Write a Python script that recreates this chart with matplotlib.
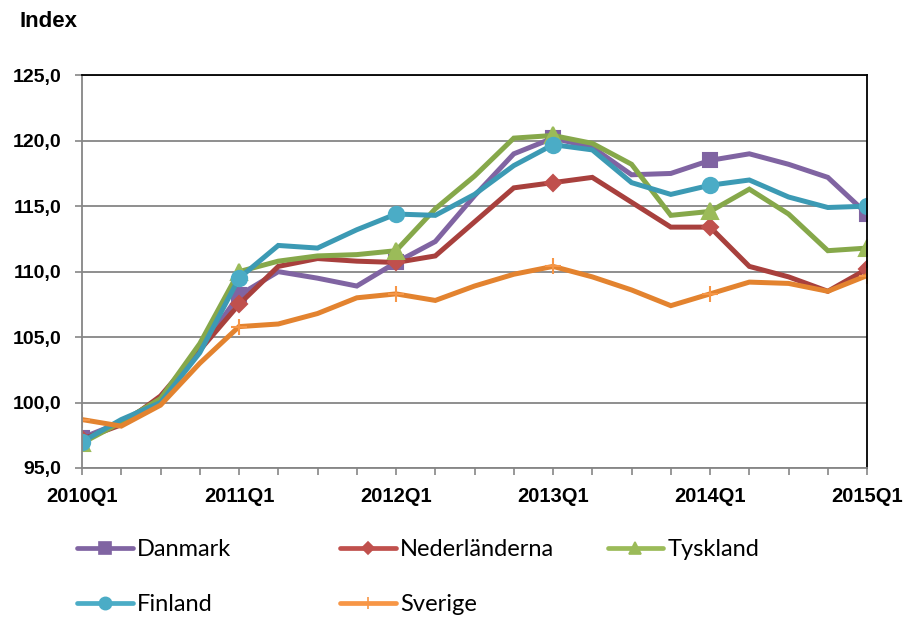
import matplotlib.pyplot as plt
from matplotlib.lines import Line2D
from matplotlib.ticker import FuncFormatter, MultipleLocator

# Quarterly index values, 2010Q1 .. 2015Q1
quarters = [f"{y}Q{q}" for y in range(2010, 2016) for q in range(1, 5)][:21]
tick_labels = ["2010Q1", "2011Q1", "2012Q1", "2013Q1", "2014Q1", "2015Q1"]

danmark = [97.3, 98.5, 100.3, 104.0, 108.2, 110.0, 109.5, 108.9, 110.7, 112.3, 115.8,
           119.0, 120.2, 119.5, 117.4, 117.5, 118.5, 119.0, 118.2, 117.2, 114.4]
nederlanderna = [97.2, 98.3, 100.5, 104.0, 107.5, 110.4, 111.0, 110.8, 110.7, 111.2, 113.8,
                 116.4, 116.8, 117.2, 115.3, 113.4, 113.4, 110.4, 109.6, 108.5, 110.2]
tyskland = [96.9, 98.5, 100.3, 104.5, 110.0, 110.8, 111.2, 111.3, 111.6, 114.8, 117.3,
            120.2, 120.4, 119.8, 118.2, 114.3, 114.6, 116.3, 114.4, 111.6, 111.8]
finland = [97.0, 98.7, 100.0, 103.8, 109.5, 112.0, 111.8, 113.2, 114.4, 114.3, 115.9,
           118.1, 119.7, 119.3, 116.8, 115.9, 116.6, 117.0, 115.7, 114.9, 115.0]
sverige = [98.7, 98.2, 99.8, 103.0, 105.8, 106.0, 106.8, 108.0, 108.3, 107.8, 108.9,
           109.8, 110.4, 109.6, 108.6, 107.4, 108.3, 109.2, 109.1, 108.5, 109.7]

fig = plt.figure(figsize=(9.07, 6.17), dpi=100)
ax = fig.add_axes([0.0904, 0.2415, 0.8656, 0.6365])

x = list(range(len(quarters)))
series = [
    ("Danmark", danmark, "#8064A2", "#8064A2", "s", 10),
    ("Nederländerna", nederlanderna, "#A8403D", "#C0504D", "D", 8),
    ("Tyskland", tyskland, "#86A84A", "#9BBB59", "^", 11),
    ("Finland", finland, "#3C9AB4", "#4BACC6", "o", 11),
    ("Sverige", sverige, "#E3832F", "#F79646", "+", 11),
]
proxies = {}
for name, vals, lc, mc, mk, ms in series:
    ax.plot(x, vals, color=lc, lw=3.6, marker=mk, markersize=ms,
            markerfacecolor=mc, markeredgecolor=mc, markeredgewidth=1.5,
            markevery=4, solid_joinstyle="miter")
    proxies[name] = Line2D([], [], color=mc, lw=3.4, marker=mk, markersize=ms * 0.8,
                           markerfacecolor=mc, markeredgecolor=mc,
                           markeredgewidth=1.2, solid_capstyle="round")

ax.set_xlim(0, 20)
ax.set_ylim(95, 125)
ax.yaxis.set_major_locator(MultipleLocator(5))
ax.yaxis.set_major_formatter(FuncFormatter(lambda v, p: f"{v:.1f}".replace(".", ",")))
ax.set_xticks(x)
ax.set_xticklabels([q if q in tick_labels else "" for q in quarters])

ax.grid(axis="y", color="#868686", lw=1.3)
ax.set_axisbelow(True)
for side in ["left", "bottom"]:
    ax.spines[side].set_color("#868686")
    ax.spines[side].set_linewidth(1.3)
for side in ["top", "right"]:
    ax.spines[side].set_color("black")
    ax.spines[side].set_linewidth(1.3)

ax.tick_params(axis="both", direction="out", length=5, width=1.2, color="#868686")
ax.tick_params(axis="x", pad=9)
ax.tick_params(axis="y", pad=10)
for lab in ax.get_xticklabels():
    lab.set_fontfamily("Liberation Sans")
    lab.set_fontweight("bold")
    lab.set_fontsize(14.5)
for lab in ax.get_yticklabels():
    lab.set_fontfamily("Liberation Sans")
    lab.set_fontweight("bold")
    lab.set_fontsize(14)

fig.text(0.021, 0.965, "Index", fontfamily="Liberation Sans", fontweight="bold",
         fontsize=16, va="center", ha="left")

# legend entries placed one by one, as in the reference layout
legend_pos = {
    "Danmark": (0.085, 0.109),
    "Nederländerna": (0.375, 0.109),
    "Tyskland": (0.670, 0.109),
    "Finland": (0.085, 0.020),
    "Sverige": (0.375, 0.020),
}
for name, (lx, ly) in legend_pos.items():
    fig.legend([proxies[name]], [name], loc="center left", bbox_to_anchor=(lx, ly),
               frameon=False, prop={"family": "Lato", "size": 17},
               handlelength=2.35, handletextpad=0.2, borderaxespad=0, borderpad=0)

fig.savefig("out.png", dpi=100)
